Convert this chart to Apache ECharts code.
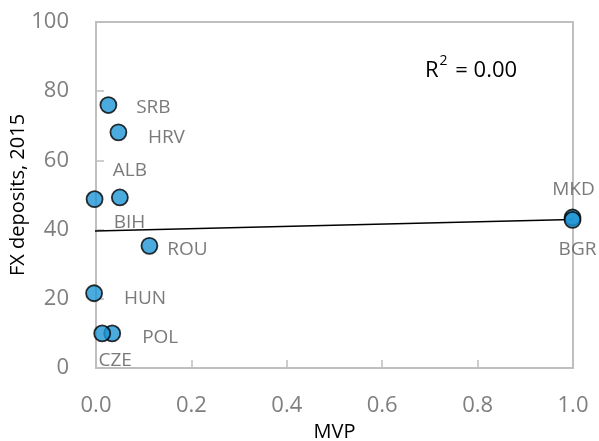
<!DOCTYPE html>
<html>
<head>
<meta charset="utf-8">
<script src="https://cdn.jsdelivr.net/npm/echarts@6/dist/echarts.min.js"></script>
<style>
  html, body { margin: 0; padding: 0; background: #fff; }
  #chart { width: 599px; height: 441px; }
</style>
</head>
<body>
<div id="chart"></div>
<script>
// countries and values
const countries = ['SRB', 'HRV', 'ALB', 'BIH', 'ROU', 'HUN', 'POL', 'CZE', 'MKD', 'BGR'];
const mvp = [0.026, 0.047, 0.050, -0.003, 0.112, -0.004, 0.034, 0.013, 0.999, 0.999];
const fxDeposits = [76.0, 68.1, 49.3, 48.8, 35.3, 21.6, 10.0, 10.0, 43.5, 42.8];

// linear trend line end points
const trendX = [-0.003, 0.999];
const trendY = [39.6, 42.9];

const xTicks = ['0.0', '0.2', '0.4', '0.6', '0.8', '1.0'];
const yTicks = [0, 20, 40, 60, 80, 100];

// where each data label sits relative to its point (px)
const labelOffsets = [[45, 3], [48, 5], [10, -27], [35, 23], [38, 4], [51, 5], [48, 4], [13, 27], [1, -28], [5, 30]];

const font = '"Open Sans", "DejaVu Sans", sans-serif';

const points = countries.map(function (c, i) {
  return {
    name: c,
    value: [mvp[i], fxDeposits[i]],
    label: { offset: labelOffsets[i] }
  };
});

let option = {
  animation: false,
  textStyle: { fontFamily: font },
  grid: {
    left: 96, right: 26, top: 22, bottom: 73,
    outerBoundsMode: 'none', containLabel: false,
    show: true, borderColor: '#BFBFBF', borderWidth: 2
  },
  xAxis: {
    type: 'value',
    min: 0, max: 1, interval: 0.2,
    name: 'MVP',
    nameLocation: 'middle',
    nameGap: 51,
    nameTextStyle: { color: '#000', fontSize: 20, fontFamily: font },
    axisLine: { show: true, onZero: false, lineStyle: { color: '#BFBFBF', width: 2 } },
    axisTick: { show: true, inside: true, length: 8, lineStyle: { color: '#BFBFBF', width: 1.5 } },
    splitLine: { show: false },
    axisLabel: {
      color: '#7F7F7F', fontSize: 22, margin: 27, fontFamily: font,
      formatter: function (v) { return xTicks[Math.round(v * 5)]; }
    }
  },
  yAxis: {
    type: 'value',
    min: 0, max: 100, interval: 20,
    name: 'FX deposits, 2015',
    nameLocation: 'middle',
    nameGap: 68,
    nameMoveOverlap: false,
    nameTextStyle: { color: '#000', fontSize: 20, fontFamily: font },
    axisLine: { show: true, lineStyle: { color: '#BFBFBF', width: 2 } },
    axisTick: { show: true, inside: true, length: 8, lineStyle: { color: '#BFBFBF', width: 1.5 } },
    splitLine: { show: false },
    axisLabel: {
      color: '#7F7F7F', fontSize: 22, margin: 27, fontFamily: font,
      formatter: function (v) { return yTicks.indexOf(v) >= 0 ? String(v) : ''; }
    }
  },
  graphic: [{
    type: 'text',
    left: 425,
    top: 54,
    style: {
      text: '{a|R}{s|2}{a| = 0.00}',
      rich: {
        a: { fontSize: 22, fill: '#000', fontFamily: font, verticalAlign: 'bottom', lineHeight: 28 },
        s: { fontSize: 14, fill: '#000', fontFamily: font, verticalAlign: 'top', padding: [0, 2, 10, 1] }
      }
    }
  }],
  series: [
    {
      type: 'line',
      data: [[trendX[0], trendY[0]], [trendX[1], trendY[1]]],
      symbol: 'none',
      lineStyle: { color: '#000', width: 1.5 },
      z: 2,
      clip: false,
      silent: true
    },
    {
      type: 'scatter',
      data: points,
      symbol: 'circle',
      symbolSize: 16,
      clip: false,
      itemStyle: { color: '#1F96D6', borderColor: '#000', borderWidth: 1.8 },
      label: {
        show: true,
        position: 'inside',
        formatter: '{b}',
        color: '#595959',
        fontSize: 19,
        fontFamily: font
      },
      z: 3
    }
  ]
};

let myChart = echarts.init(document.getElementById('chart'));
myChart.setOption(option);
</script>
</body>
</html>
